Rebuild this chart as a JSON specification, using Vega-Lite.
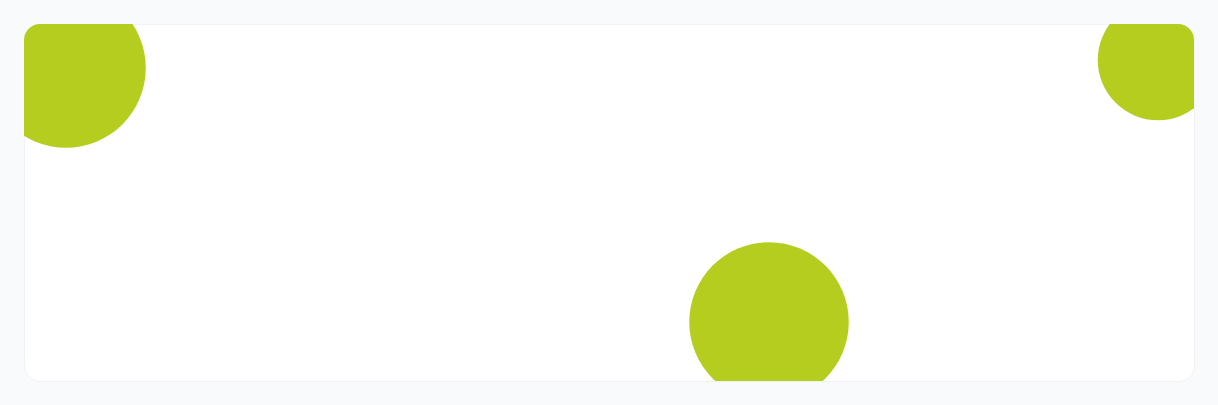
{"$schema":"https://vega.github.io/schema/vega-lite/v6.json","width":1170,"height":357,"autosize":"none","padding":{"left":24,"top":24,"right":24,"bottom":24},"background":"#f9fafc","config":{"view":{"fill":"#ffffff","stroke":"#f1f2f5","strokeWidth":1,"cornerRadius":16}},"data":{"values":[{"x":42,"y":44,"r":90},{"x":745,"y":298,"r":90},{"x":1134,"y":36,"r":68}]},"transform":[{"calculate":"PI*datum.r*datum.r","as":"area"}],"mark":{"type":"point","shape":"circle","filled":true,"opacity":1,"clip":true,"color":"#b5cd1e"},"encoding":{"x":{"field":"x","type":"quantitative","scale":{"domain":[0,1170],"nice":false,"zero":false},"axis":null},"y":{"field":"y","type":"quantitative","scale":{"domain":[0,357],"reverse":true,"nice":false,"zero":false},"axis":null},"size":{"field":"area","type":"quantitative","scale":null,"legend":null}}}
